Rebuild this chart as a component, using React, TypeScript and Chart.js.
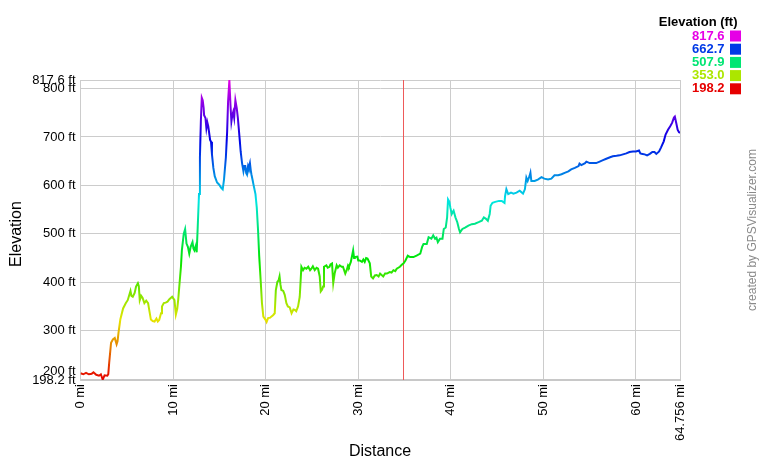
import React, { useEffect, useRef } from "react";
import { Chart, registerables } from "chart.js";

Chart.register(...registerables);

const distanceMi = [
  0, 0.3, 0.6, 0.9, 1.2, 1.4, 1.7, 2.0, 2.2, 2.4, 2.6, 2.9, 3.0, 3.1, 3.3, 3.5, 3.7, 3.9, 4.0, 4.1,
  4.3, 4.6, 4.9, 5.1, 5.4, 5.5, 5.65, 5.85, 6.0, 6.2, 6.3, 6.4, 6.55, 6.7, 6.9, 7.1, 7.3, 7.45, 7.6, 7.8,
  8.0, 8.2, 8.35, 8.5, 8.7, 8.8, 9.0, 9.2, 9.4, 9.6, 9.9, 10.15, 10.3, 10.45, 10.55, 10.7, 10.85, 10.95, 11.15, 11.3,
  11.45, 11.6, 11.75, 11.9, 12.1, 12.2, 12.3, 12.45, 12.55, 12.66, 12.8, 12.9, 13.0, 13.1, 13.2, 13.3, 13.35, 13.5, 13.6, 13.7,
  13.8, 14.0, 14.1, 14.2, 14.35, 14.5, 14.75, 14.96, 15.1, 15.2, 15.36, 15.5, 15.7, 15.84, 15.94, 16.08, 16.2, 16.3, 16.4, 16.5,
  16.6, 16.73, 16.88, 17.0, 17.2, 17.3, 17.45, 17.6, 17.7, 17.8, 17.9, 17.96, 18.1, 18.17, 18.3, 18.4, 18.46, 18.6, 18.68, 18.9,
  19.04, 19.18, 19.3, 19.47, 19.6, 19.75, 19.97, 20.1, 20.26, 20.5, 20.6, 20.8, 20.98, 21.1, 21.27, 21.4, 21.5, 21.6, 21.7, 21.9,
  22.06, 22.24, 22.4, 22.6, 22.8, 23.0, 23.14, 23.3, 23.5, 23.68, 23.86, 24.04, 24.2, 24.4, 24.6, 24.8, 24.94, 25.1, 25.3, 25.5,
  25.66, 25.84, 25.95, 26.1, 26.2, 26.3, 26.56, 26.7, 26.9, 27.0, 27.17, 27.3, 27.45, 27.67, 27.8, 28.0, 28.2, 28.35, 28.6, 28.75,
  28.9, 29.0, 29.2, 29.45, 29.55, 29.63, 29.9, 30.0, 30.16, 30.4, 30.55, 30.7, 30.85, 31.0, 31.25, 31.4, 31.6, 31.8, 32.0, 32.2,
  32.36, 32.7, 32.9, 33.1, 33.4, 33.6, 33.8, 34.0, 34.16, 34.5, 34.7, 34.9, 35.1, 35.35, 35.6, 35.96, 36.3, 36.7, 36.9, 37.05,
  37.4, 37.6, 37.9, 38.1, 38.3, 38.45, 38.6, 38.83, 39.1, 39.24, 39.45, 39.6, 39.7, 39.85, 39.95, 40.1, 40.2, 40.3, 40.5, 40.7,
  40.88, 41.0, 41.25, 41.54, 41.9, 42.26, 42.6, 43.0, 43.35, 43.57, 43.8, 44.0, 44.2, 44.3, 44.5, 44.8, 45.2, 45.5, 45.8, 45.86,
  46.0, 46.2, 46.5, 46.76, 47.1, 47.44, 47.8, 48.0, 48.16, 48.3, 48.5, 48.6, 48.7, 49.05, 49.4, 49.8, 50.1, 50.5, 50.86, 51.2,
  51.6, 51.96, 52.3, 52.7, 53.0, 53.4, 53.8, 53.9, 54.1, 54.5, 54.64, 55.0, 55.4, 55.7, 56.08, 56.44, 56.8, 57.2, 57.5, 57.9,
  58.24, 58.6, 58.96, 59.3, 59.68, 60.0, 60.33, 60.47, 60.7, 60.94, 61.2, 61.5, 61.77, 62.0, 62.2, 62.5, 62.7, 63.0, 63.2, 63.46,
  63.7, 63.9, 64.1, 64.2, 64.35, 64.5, 64.64, 64.756,
];

const elevationFt = [
  212, 210, 213, 210, 211, 214, 209, 207, 210, 199, 208, 207, 210, 234, 275, 282, 285, 272, 278, 295,
  323, 346, 357, 363, 382, 372, 370, 378, 391, 398, 392, 363, 372, 368, 357, 362, 357, 340, 323, 320,
  319, 325, 319, 322, 336, 350, 357, 358, 360, 365, 370, 363, 333, 345, 363, 398, 432, 466, 500, 510,
  480, 473, 459, 473, 483, 470, 466, 475, 462, 513, 582, 657, 732, 781, 776, 760, 745, 739, 718, 730,
  722, 694, 690, 664, 636, 619, 606, 602, 598, 595, 592, 612, 657, 711, 773, 817.6, 766, 732, 745, 752,
  740, 776, 759, 739, 694, 670, 646, 629, 640, 640, 625, 623, 640, 636, 646, 630, 623, 610, 602, 582,
  554, 507, 455, 401, 357, 329, 323, 318, 326, 327, 329, 332, 336, 384, 401, 404, 412, 395, 384, 382,
  374, 357, 350, 348, 336, 344, 343, 340, 350, 370, 432, 425, 430, 428, 432, 425, 428, 433, 425, 430,
  428, 412, 381, 385, 391, 432, 435, 430, 432, 437, 439, 398, 418, 435, 430, 435, 432, 432, 418, 425,
  435, 432, 442, 466, 450, 452, 453, 445, 445, 442, 447, 442, 450, 449, 439, 412, 408, 414, 415, 412,
  418, 412, 418, 418, 421, 420, 425, 423, 428, 432, 436, 439, 445, 455, 452, 452, 455, 459, 473, 479,
  479, 493, 490, 497, 490, 492, 483, 490, 490, 510, 513, 534, 571, 566, 554, 541, 545, 548, 534, 524,
  510, 503, 510, 513, 517, 520, 521, 524, 527, 534, 531, 527, 541, 558, 564, 566, 568, 568, 564, 578,
  592, 582, 585, 583, 585, 589, 583, 592, 616, 609, 619, 626, 609, 609, 612, 617, 614, 612, 614, 621,
  621, 623, 626, 629, 633, 636, 640, 645, 642, 646, 649, 646, 646, 646, 649, 652, 655, 658, 660, 661,
  662, 664, 666, 669, 670, 670, 672, 666, 665, 664, 662, 665, 669, 669, 665, 670, 678, 691, 705, 715,
  722, 729, 740, 742, 729, 715, 710, 708,
];

const yTicks = [198.2, 200, 300, 400, 500, 600, 700, 800, 817.6];
const xTicks = [0, 10, 20, 30, 40, 50, 60, 64.756];
const legendValues = [817.6, 662.7, 507.9, 353.0, 198.2];
const legendLabels = ["817.6", "662.7", "507.9", "353.0", "198.2"];
const markerMi = 34.8;
const yMin = 198.2;
const yMax = 817.6;
const xMax = 64.756;

const FONT = "'Liberation Sans', Arial, Helvetica, sans-serif";

function hueColor(v: number): string {
  const f = (v - yMin) / (yMax - yMin);
  return `hsl(${(300 * f).toFixed(1)}, 100%, 45%)`;
}

const overlayPlugin = {
  id: "overlay",
  beforeDatasetsDraw(chart: any) {
    const { ctx, chartArea, scales } = chart;
    const x = Math.round(scales.x.getPixelForValue(markerMi)) + 0.5;
    ctx.save();
    ctx.strokeStyle = "#ee5a5a";
    ctx.lineWidth = 1;
    ctx.beginPath();
    ctx.moveTo(x, chartArea.top);
    ctx.lineTo(x, chartArea.bottom);
    ctx.stroke();
    ctx.restore();
  },
  afterDraw(chart: any) {
    const { ctx } = chart;
    ctx.save();
    // axis titles
    ctx.fillStyle = "#000";
    ctx.font = `16px ${FONT}`;
    ctx.textAlign = "center";
    ctx.textBaseline = "middle";
    ctx.fillText("Distance", 380, 452);
    ctx.save();
    ctx.translate(17, 234);
    ctx.rotate(-Math.PI / 2);
    ctx.fillText("Elevation", 0, 0);
    ctx.restore();

    // legend
    ctx.font = `bold 13px ${FONT}`;
    ctx.textAlign = "right";
    ctx.fillStyle = "#000";
    ctx.fillText("Elevation (ft)", 737.5, 22);
    legendValues.forEach((v, i) => {
      const cy = 36 + i * 13.2;
      const c = hueColor(v);
      ctx.fillStyle = c;
      ctx.fillText(legendLabels[i], 724.5, cy);
      ctx.fillRect(730, cy - 5.5, 11, 11);
    });

    // credit
    ctx.font = `12px ${FONT}`;
    ctx.fillStyle = "#8a8a8a";
    ctx.textAlign = "center";
    ctx.save();
    ctx.translate(753, 230);
    ctx.rotate(-Math.PI / 2);
    ctx.fillText("created by GPSVisualizer.com", 0, 0);
    ctx.restore();
    ctx.restore();
  },
};

export default function App() {
  const canvasRef = useRef<HTMLCanvasElement | null>(null);

  useEffect(() => {
    const canvas = canvasRef.current;
    if (!canvas) return;
    const points = distanceMi.map((d, i) => ({ x: d, y: elevationFt[i] }));

    const chart = new Chart(canvas, {
      type: "line",
      data: {
        datasets: [
          {
            data: points,
            borderWidth: 2,
            pointRadius: 0,
            tension: 0,
            borderColor: (context: any) => {
              const { chart } = context;
              const area = chart.chartArea;
              if (!area) return "#ee0000";
              const ys = chart.scales.y;
              const top = ys.getPixelForValue(yMax);
              const bottom = ys.getPixelForValue(yMin);
              const g = chart.ctx.createLinearGradient(0, bottom, 0, top);
              const n = 20;
              for (let i = 0; i <= n; i++) {
                const v = yMin + ((yMax - yMin) * i) / n;
                g.addColorStop(i / n, hueColor(v));
              }
              return g;
            },
          },
        ],
      },
      options: {
        responsive: false,
        animation: false,
        devicePixelRatio: 1,
        layout: { padding: { left: 0, top: 80, right: 80, bottom: 0 } },
        plugins: {
          legend: { display: false },
          tooltip: { enabled: false },
          title: { display: false },
        },
        scales: {
          x: {
            type: "linear",
            min: 0,
            max: xMax,
            afterBuildTicks: (axis: any) => {
              axis.ticks = xTicks.map((v) => ({ value: v }));
            },
            afterFit: (axis: any) => {
              axis.height = 80;
            },
            ticks: {
              autoSkip: false,
              minRotation: 90,
              maxRotation: 90,
              padding: 4,
              color: "#000",
              font: { family: FONT, size: 13 },
              callback: (v: any) => `${v} mi`,
            },
            grid: { color: "#cccccc", lineWidth: 1, drawTicks: false },
            border: { display: true, color: "#c8c8c8", width: 2 },
          },
          y: {
            type: "linear",
            min: yMin,
            max: yMax,
            afterBuildTicks: (axis: any) => {
              axis.ticks = yTicks.map((v) => ({ value: v }));
            },
            afterFit: (axis: any) => {
              axis.width = 80.5;
            },
            ticks: {
              autoSkip: false,
              padding: 5,
              color: "#000",
              font: { family: FONT, size: 13 },
              callback: (v: any) => (v === 200 ? ["200 ft", ""] : `${v} ft`),
            },
            grid: { color: "#cccccc", lineWidth: 1, drawTicks: false },
            border: { display: true, color: "#cccccc", width: 1 },
          },
        },
      },
      plugins: [overlayPlugin],
    });

    return () => {
      chart.destroy();
    };
  }, []);

  return (
    <div style={{ position: "absolute", left: 0, top: 0, width: 760, height: 460, background: "#fff" }}>
      <canvas ref={canvasRef} width={760} height={460} style={{ display: "block" }} />
    </div>
  );
}
